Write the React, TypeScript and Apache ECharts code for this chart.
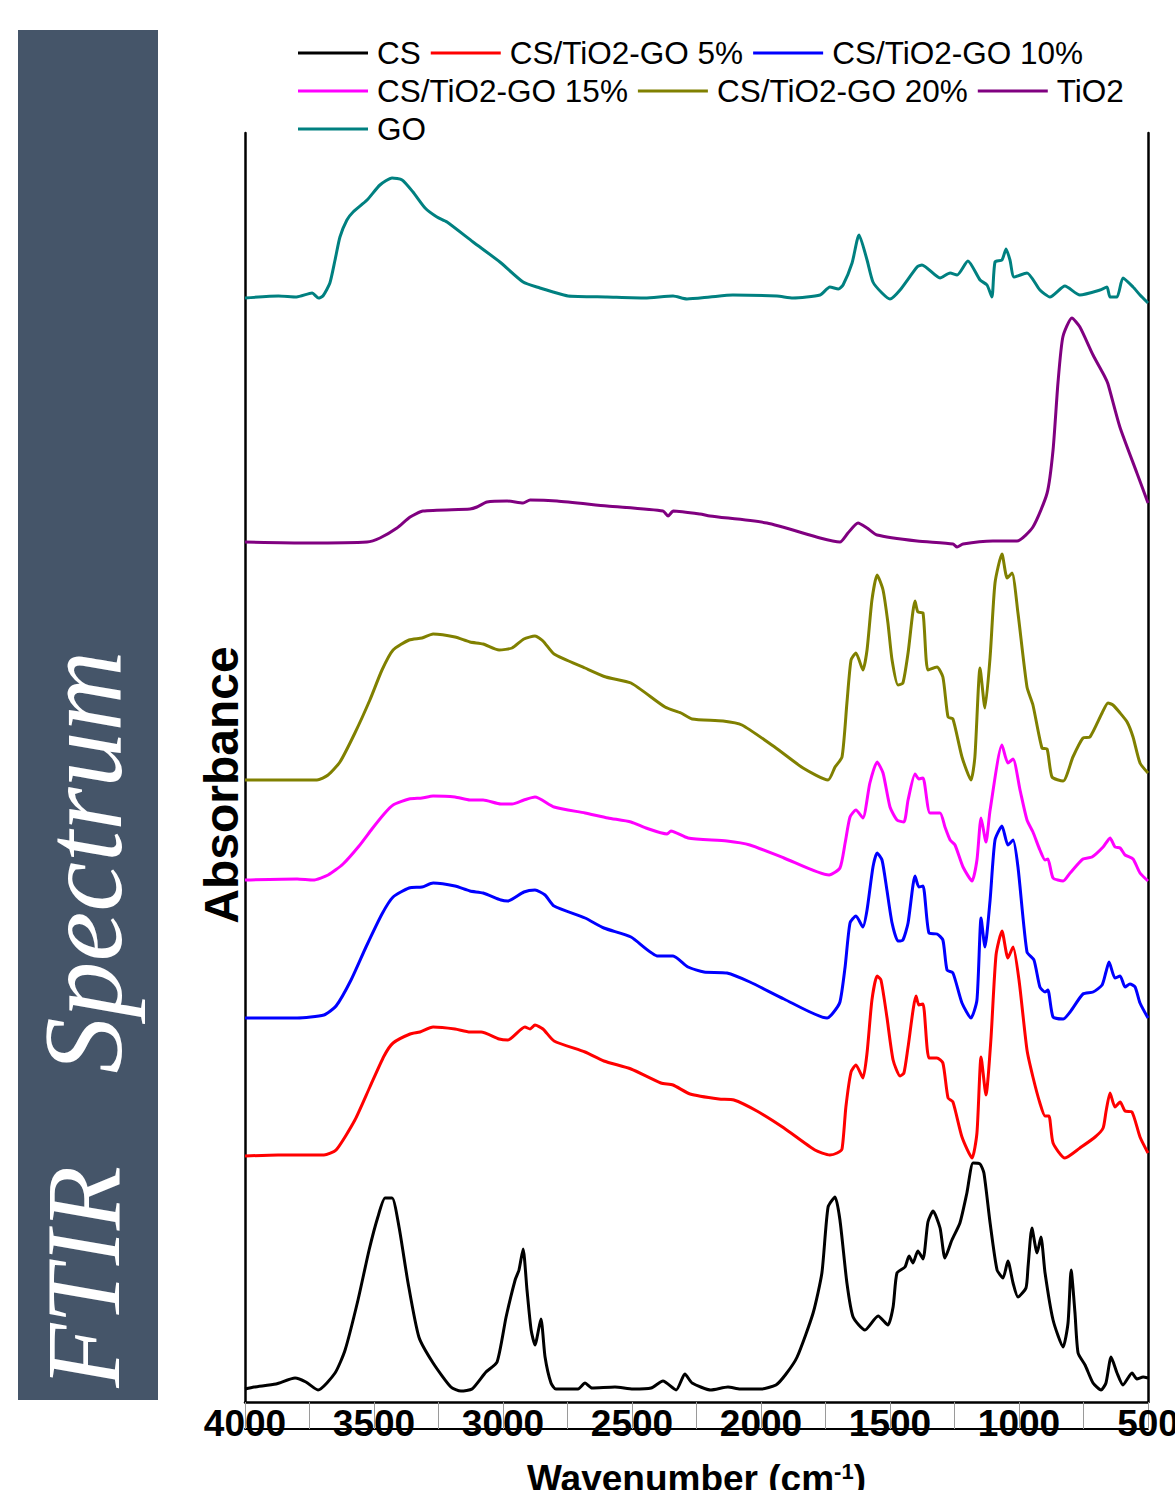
import React, { useEffect, useRef } from "react";
import * as echarts from "echarts";

// Wavenumber (cm-1) vs absorbance (stacked, arbitrary units)
const seriesNames = ["CS", "CS/TiO2-GO 5%", "CS/TiO2-GO 10%", "CS/TiO2-GO 15%", "CS/TiO2-GO 20%", "TiO2", "GO"];
const seriesColors = ["#000000", "#ff0000", "#0000ff", "#ff00ff", "#808000", "#800080", "#008080"];
const legendRows = [
  ["CS", "CS/TiO2-GO 5%", "CS/TiO2-GO 10%"],
  ["CS/TiO2-GO 15%", "CS/TiO2-GO 20%", "TiO2"],
  ["GO"],
];

const csData = [[4000,13],[3965,15],[3880,18],[3806,24],[3764,20],[3717,12],[3651,29],[3612,52],[3562,102],[3519,152],[3485,185],[3457,204],[3430,204],[3403,175],[3368,119],[3326,65],[3271,39],[3202,15],[3163,11],[3120,13],[3066,30],[3023,40],[2988,85],[2953,122],[2938,132],[2922,153],[2907,112],[2891,72],[2876,57],[2853,83],[2837,45],[2814,19],[2795,13],[2709,13],[2682,19],[2655,14],[2566,15],[2496,13],[2426,14],[2380,21],[2329,12],[2295,28],[2267,19],[2194,12],[2128,15],[2081,13],[2000,13],[1942,17],[1903,28],[1860,45],[1798,89],[1764,129],[1740,195],[1713,205],[1694,182],[1667,119],[1643,85],[1597,72],[1546,86],[1508,77],[1488,95],[1473,129],[1442,135],[1426,146],[1411,139],[1392,151],[1372,143],[1353,180],[1333,191],[1306,174],[1287,144],[1260,162],[1229,179],[1202,209],[1178,239],[1151,238],[1136,229],[1112,179],[1085,132],[1062,124],[1043,141],[1023,119],[1004,105],[973,114],[965,135],[950,174],[930,149],[915,165],[899,129],[868,82],[829,55],[810,79],[798,132],[783,89],[771,49],[744,37],[713,19],[682,12],[663,19],[643,45],[620,29],[597,17],[562,29],[543,23],[519,25],[500,24]];

const go5Data = [[4000,246],[3872,247],[3694,247],[3647,252],[3574,282],[3516,315],[3461,346],[3426,359],[3360,368],[3322,370],[3271,375],[3186,373],[3128,370],[3085,370],[3015,363],[2981,362],[2915,375],[2895,373],[2876,377],[2845,373],[2802,361],[2682,350],[2609,341],[2504,333],[2388,319],[2341,317],[2275,308],[2163,303],[2105,302],[2016,291],[1911,274],[1791,252],[1733,247],[1705,249],[1686,253],[1671,295],[1651,330],[1632,337],[1605,324],[1589,349],[1570,402],[1550,426],[1535,422],[1512,385],[1488,342],[1461,326],[1446,329],[1430,355],[1399,406],[1388,397],[1372,398],[1349,344],[1318,344],[1295,339],[1275,304],[1256,300],[1221,265],[1182,244],[1163,269],[1147,345],[1128,307],[1109,362],[1089,447],[1066,471],[1043,444],[1023,455],[1000,422],[969,352],[946,325],[919,299],[899,286],[884,286],[868,259],[822,244],[764,254],[705,265],[674,274],[663,290],[647,309],[628,295],[608,300],[589,291],[562,290],[531,265],[500,249]];

const go10Data = [[4000,384],[3798,384],[3694,387],[3647,396],[3589,422],[3531,455],[3469,488],[3426,505],[3364,514],[3314,515],[3271,519],[3186,516],[3128,511],[3077,509],[3008,502],[2981,501],[2919,510],[2876,512],[2837,507],[2802,496],[2682,484],[2609,474],[2504,465],[2399,446],[2341,446],[2283,435],[2221,430],[2132,429],[2043,420],[1911,403],[1744,384],[1721,389],[1694,400],[1674,435],[1655,479],[1632,486],[1605,475],[1589,492],[1566,535],[1550,549],[1531,542],[1512,512],[1492,479],[1469,461],[1450,462],[1430,479],[1403,526],[1388,515],[1372,516],[1349,469],[1318,468],[1295,462],[1279,432],[1256,429],[1221,399],[1186,384],[1163,402],[1147,484],[1132,455],[1112,502],[1093,562],[1066,576],[1043,557],[1023,562],[1004,535],[969,450],[942,442],[919,415],[899,410],[888,412],[868,385],[829,383],[802,390],[752,408],[713,410],[678,417],[663,430],[651,440],[628,424],[608,426],[589,415],[570,418],[550,415],[531,399],[500,384]];

const go15Data = [[4000,522],[3798,523],[3736,522],[3678,527],[3620,538],[3558,556],[3508,573],[3461,588],[3426,597],[3364,603],[3314,604],[3271,606],[3186,605],[3128,602],[3077,602],[3008,598],[2965,598],[2919,602],[2876,605],[2802,595],[2682,589],[2593,584],[2504,580],[2446,574],[2364,568],[2349,571],[2283,564],[2132,561],[2043,557],[1911,544],[1736,527],[1694,534],[1674,559],[1655,585],[1632,592],[1605,584],[1578,619],[1550,640],[1527,629],[1500,595],[1473,582],[1446,580],[1430,602],[1403,628],[1388,623],[1372,624],[1345,589],[1306,589],[1287,575],[1267,562],[1248,557],[1217,535],[1182,521],[1163,542],[1147,584],[1128,560],[1112,592],[1066,657],[1043,639],[1023,643],[996,612],[969,582],[946,570],[919,552],[899,542],[888,543],[868,524],[829,521],[802,529],[752,543],[717,545],[674,555],[647,564],[628,555],[608,554],[589,547],[558,543],[531,529],[500,521]];

const go20Data = [[4000,622],[3721,622],[3678,627],[3632,640],[3574,669],[3516,702],[3469,732],[3426,752],[3364,762],[3314,764],[3271,768],[3186,765],[3128,760],[3077,758],[3015,752],[2965,754],[2919,763],[2876,766],[2845,761],[2802,748],[2682,734],[2601,725],[2504,719],[2372,695],[2310,689],[2267,683],[2147,681],[2074,677],[1942,654],[1837,634],[1740,622],[1713,635],[1686,645],[1667,699],[1651,742],[1632,749],[1605,732],[1589,752],[1570,802],[1550,827],[1527,812],[1508,779],[1492,742],[1469,717],[1450,719],[1430,749],[1403,801],[1392,790],[1372,789],[1353,732],[1318,735],[1295,725],[1275,685],[1256,683],[1221,645],[1186,622],[1171,645],[1151,734],[1132,694],[1112,745],[1093,819],[1066,848],[1046,824],[1027,829],[1004,789],[969,715],[946,697],[911,654],[891,653],[872,625],[829,621],[791,645],[752,664],[725,665],[678,689],[655,699],[636,697],[608,689],[581,680],[558,665],[531,639],[500,629]];

const tio2Data = [[4000,860],[3760,859],[3527,860],[3477,864],[3411,874],[3360,885],[3310,891],[3128,893],[3101,895],[3062,900],[2984,901],[2922,899],[2895,902],[2791,901],[2597,896],[2380,891],[2360,886],[2340,891],[2236,888],[2198,886],[1977,879],[1771,864],[1694,860],[1663,869],[1624,879],[1589,874],[1550,867],[1395,861],[1256,858],[1240,855],[1217,858],[1101,861],[1008,861],[946,875],[891,909],[868,952],[849,1019],[830,1065],[795,1084],[764,1075],[713,1047],[667,1025],[655,1018],[609,975],[543,929],[500,899]];

const goData = [[4000,1104],[3870,1106],[3800,1105],[3740,1109],[3715,1104],[3698,1106],[3671,1119],[3651,1142],[3632,1165],[3605,1182],[3581,1190],[3527,1202],[3477,1217],[3430,1224],[3391,1222],[3349,1210],[3302,1194],[3256,1185],[3217,1180],[3116,1160],[3012,1140],[2922,1120],[2857,1114],[2806,1110],[2748,1106],[2597,1105],[2450,1104],[2341,1106],[2287,1103],[2198,1105],[2109,1107],[1938,1106],[1876,1104],[1771,1107],[1733,1115],[1700,1113],[1682,1117],[1647,1139],[1620,1167],[1589,1142],[1566,1120],[1531,1109],[1500,1103],[1461,1112],[1395,1135],[1376,1137],[1306,1124],[1267,1129],[1240,1127],[1198,1141],[1151,1122],[1124,1117],[1105,1105],[1093,1140],[1066,1142],[1050,1153],[1035,1142],[1019,1125],[969,1129],[919,1112],[880,1105],[822,1116],[764,1107],[686,1112],[659,1115],[647,1105],[620,1105],[597,1124],[558,1115],[531,1107],[500,1099]];

const allData = [csData, go5Data, go10Data, go15Data, go20Data, tio2Data, goData];

const X_MIN = 500;
const X_MAX = 4000;
const X_STEP = 500;
const Y_MAX = 1269;

const SANS = '"Liberation Sans", Arial, sans-serif';
const SERIF = '"Liberation Serif", "Times New Roman", serif';

export default function App() {
  const ref = useRef<HTMLDivElement>(null);
  useEffect(() => {
    if (!ref.current) return;
    const chart = echarts.init(ref.current, null, { renderer: "svg", width: 1175, height: 1490 });
    const hiddenY = {
      type: "value",
      min: 0,
      max: Y_MAX,
      axisLine: { show: true, lineStyle: { color: "#000", width: 2.5 } },
      axisTick: { show: false },
      axisLabel: { show: false },
      splitLine: { show: false },
    };
    const legendTops = [37, 75, 113];
    chart.setOption({
      animation: false,
      backgroundColor: "#ffffff",
      grid: { left: 245, right: 27, top: 133, bottom: 88, containLabel: false, outerBoundsMode: "none" },
      legend: legendRows.map((row, i) => ({
        data: row,
        left: 298,
        top: legendTops[i],
        padding: 0,
        icon: "rect",
        itemWidth: 70,
        itemHeight: 3,
        itemGap: 10,
        textStyle: { fontSize: 31.5, fontFamily: SANS, color: "#000", padding: [0, 0, 0, 4] },
      })),
      xAxis: [
        {
          type: "value",
          min: X_MIN,
          max: X_MAX,
          interval: X_STEP,
          inverse: true,
          position: "bottom",
          axisLine: { show: true, onZero: false, lineStyle: { color: "#000", width: 2.5 } },
          axisTick: { show: true, inside: false, length: 27, lineStyle: { color: "#9a9a9a", width: 1 } },
          minorTick: { show: true, splitNumber: 2, length: 27, lineStyle: { color: "#9a9a9a", width: 1 } },
          splitLine: { show: false },
          axisLabel: {
            show: true,
            interval: 0,
            margin: 3,
            fontSize: 37,
            fontWeight: "bold",
            fontFamily: SANS,
            color: "#000",
            formatter: (v: number) => String(v),
          },
          name: "{a|Wavenumber (cm}{b|-1}{a|)}",
          nameLocation: "middle",
          nameGap: 58,
          nameTextStyle: {
            rich: {
              a: { fontSize: 37, fontWeight: "bold", fontFamily: SANS, color: "#000" },
              b: { fontSize: 22, fontWeight: "bold", fontFamily: SANS, color: "#000", verticalAlign: "top", padding: [0, 0, 14, 0] },
            },
          },
        },
        {
          type: "value",
          min: X_MIN,
          max: X_MAX,
          inverse: true,
          position: "bottom",
          offset: 27,
          axisLine: { show: true, onZero: false, lineStyle: { color: "#000", width: 2 } },
          axisTick: { show: false },
          axisLabel: { show: false },
          splitLine: { show: false },
        },
      ],
      yAxis: [
        { ...hiddenY, position: "left" },
        { ...hiddenY, position: "right" },
      ],
      graphic: [
        { type: "rect", shape: { x: 18, y: 30, width: 140, height: 1370 }, style: { fill: "#455569" }, z: 0 },
        {
          type: "text",
          x: 83,
          y: 1277,
          rotation: Math.PI / 2,
          style: { text: "FTIR", fill: "#ffffff", font: `italic 105px ${SERIF}`, align: "center", verticalAlign: "middle" },
        },
        {
          type: "text",
          x: 83,
          y: 862,
          rotation: Math.PI / 2,
          style: { text: "Spectrum", fill: "#ffffff", font: `italic 112px ${SERIF}`, align: "center", verticalAlign: "middle" },
        },
        {
          type: "text",
          x: 221,
          y: 785,
          rotation: Math.PI / 2,
          style: { text: "Absorbance", fill: "#000000", font: `bold 48px ${SANS}`, align: "center", verticalAlign: "middle" },
        },
      ],
      series: seriesNames.map((name, i) => ({
        name,
        type: "line",
        xAxisIndex: 0,
        yAxisIndex: 0,
        data: allData[i],
        showSymbol: false,
        symbol: "none",
        smooth: 0.2,
        color: seriesColors[i],
        lineStyle: { color: seriesColors[i], width: 3 },
        z: 3,
      })),
    });
    return () => chart.dispose();
  }, []);
  return (
    <div
      ref={ref}
      style={{ position: "absolute", left: 0, top: 0, width: 1175, height: 1490, background: "#fff" }}
    />
  );
}
